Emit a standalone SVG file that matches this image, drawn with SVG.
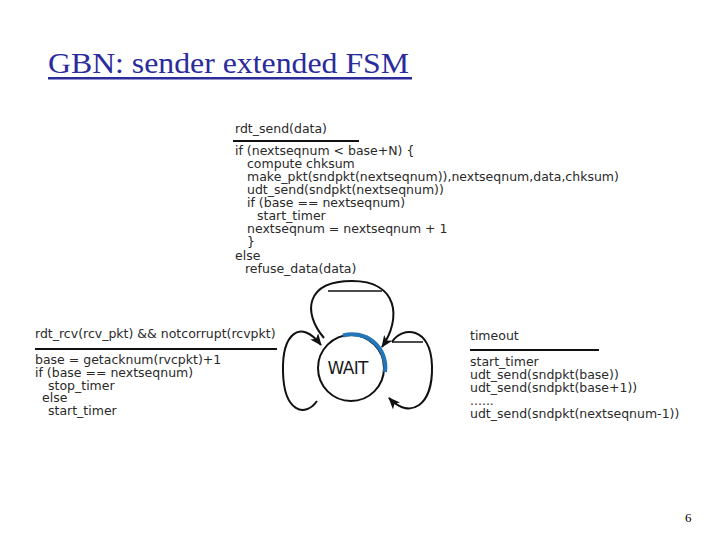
<svg xmlns="http://www.w3.org/2000/svg" width="720" height="540" viewBox="0 0 720 540">
<defs>
<style>
.t{font-family:"DejaVu Sans","Liberation Sans",sans-serif;font-size:12.5px;fill:#2a2a2a}
.rule{stroke:#111;stroke-width:2}
.edge{fill:none;stroke:#111;stroke-width:2}
.title{font-family:"Liberation Serif","Times New Roman",serif;font-size:30px;fill:#2b2b9c}
</style>
<marker id="arr" viewBox="0 0 12 10" refX="11" refY="5" markerWidth="12" markerHeight="10" markerUnits="userSpaceOnUse" orient="auto">
<path d="M0,0 L12,5 L0,10 L3,5 Z" fill="#111"/>
</marker>
</defs>
<rect width="720" height="540" fill="#fff"/>
<g id="title">
<text class="title" x="48" y="73" textLength="361" lengthAdjust="spacingAndGlyphs">GBN: sender extended FSM</text>
<rect x="48" y="77" width="364" height="2.5" fill="#2b2b9c"/>
</g>
<g id="label-send">
<text class="t" x="235" y="133">rdt_send(data)</text>
<line class="rule" x1="233" y1="141" x2="359" y2="141"/>
<text class="t" x="235" y="155">if (nextseqnum &lt; base+N) {</text>
<text class="t" x="247" y="168">compute chksum</text>
<text class="t" x="247" y="181">make_pkt(sndpkt(nextseqnum)),nextseqnum,data,chksum)</text>
<text class="t" x="247" y="194">udt_send(sndpkt(nextseqnum))</text>
<text class="t" x="247" y="207">if (base == nextseqnum)</text>
<text class="t" x="257" y="220">start_timer</text>
<text class="t" x="247" y="233">nextseqnum = nextseqnum + 1</text>
<text class="t" x="247" y="246">}</text>
<text class="t" x="235" y="260">else</text>
<text class="t" x="245" y="273">refuse_data(data)</text>
</g>
<g id="label-rcv">
<text class="t" x="35" y="338">rdt_rcv(rcv_pkt) &amp;&amp; notcorrupt(rcvpkt)</text>
<line class="rule" x1="35" y1="349" x2="277" y2="349"/>
<text class="t" x="35" y="364">base = getacknum(rvcpkt)+1</text>
<text class="t" x="35" y="377">if (base == nextseqnum)</text>
<text class="t" x="48" y="390">stop_timer</text>
<text class="t" x="42" y="402">else</text>
<text class="t" x="48" y="415">start_timer</text>
</g>
<g id="label-timeout">
<text class="t" x="470" y="340">timeout</text>
<line class="rule" x1="470" y1="350" x2="599" y2="350"/>
<text class="t" x="470" y="366">start_timer</text>
<text class="t" x="470" y="379">udt_send(sndpkt(base))</text>
<text class="t" x="470" y="392">udt_send(sndpkt(base+1))</text>
<text class="t" x="470" y="405">......</text>
<text class="t" x="470" y="418">udt_send(sndpkt(nextseqnum-1))</text>
</g>
<g id="connectors">
<path class="edge" d="M324,338 C302,312 306,281 352,281 C398,281 402,318 382,347" marker-end="url(#arr)"/>
<line x1="328" y1="291" x2="382" y2="291" stroke="#111" stroke-width="1.5"/>
<path class="edge" d="M317,401 C305,418 284,412 283,372 C282,334 300,318 321,345" marker-end="url(#arr)"/>
<line x1="392" y1="342" x2="423" y2="342" stroke="#111" stroke-width="1.5"/>
<path class="edge" d="M392,342 C402,326 431,326 432,366 C433,406 410,420 389,398" marker-end="url(#arr)"/>
</g>
<g id="wait">
<circle cx="351" cy="368" r="33" fill="#fff" stroke="#111" stroke-width="2"/>
<path d="M343,335.5 A33,33 0 0 1 385,372" fill="none" stroke="#2377b8" stroke-width="4"/>
<text x="348" y="374" text-anchor="middle" font-family="DejaVu Sans,Liberation Sans,sans-serif" font-size="17" textLength="41" fill="#1a1a1a">WAIT</text>
</g>
<text x="685" y="522" font-family="Liberation Serif,serif" font-size="13" fill="#000">6</text>
</svg>
